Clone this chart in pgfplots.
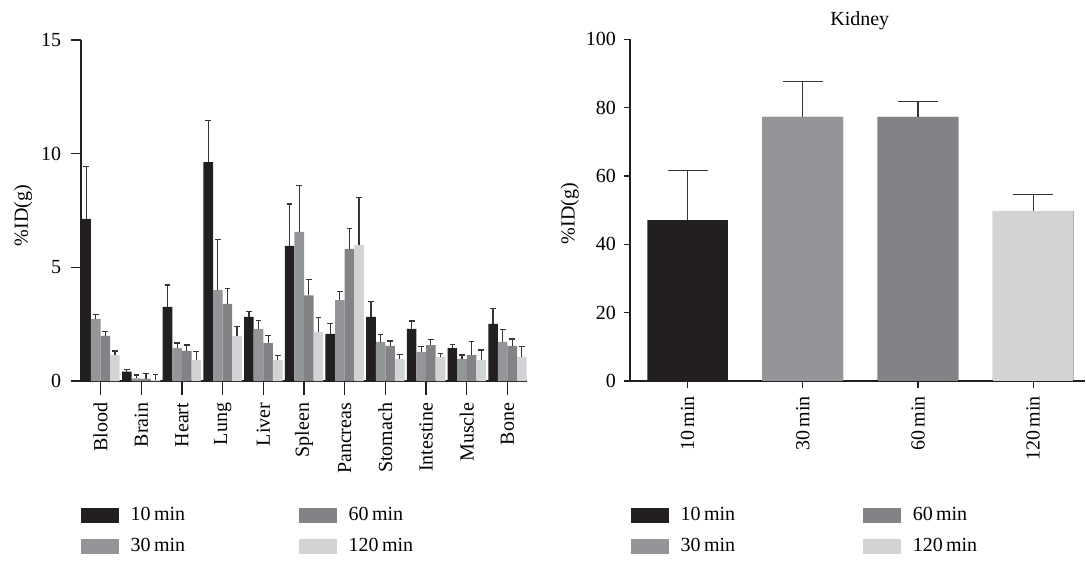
\documentclass[border=0pt]{standalone}
\usepackage{fontspec}
\setmainfont{Liberation Serif}
\usepackage{pgfplots}
\usepackage{pgfplotstable}
\pgfplotsset{compat=1.18}
\definecolor{cA}{RGB}{35,31,32}
\definecolor{cB}{RGB}{148,149,152}
\definecolor{cC}{RGB}{130,131,135}
\definecolor{cD}{RGB}{209,211,212}
\definecolor{cErr}{RGB}{55,52,53}
\definecolor{cAx}{RGB}{35,31,32}
\newcommand{\ff}{\fontsize{20}{24}\selectfont}

\pgfplotstableread{
x a ae b be c ce d de
0 7.13 2.31 2.73 0.19 1.98 0.19 1.14 0.18
1 0.41 0.10 0.12 0.14 0.09 0.25 0.05 0.23
2 3.26 0.96 1.45 0.22 1.32 0.26 0.92 0.39
3 9.63 1.82 4.00 2.22 3.39 0.69 1.98 0.41
4 2.82 0.24 2.29 0.36 1.67 0.32 0.92 0.19
5 5.94 1.85 6.56 2.04 3.77 0.70 2.16 0.64
6 2.07 0.45 3.56 0.36 5.81 0.89 5.98 2.09
7 2.82 0.67 1.72 0.32 1.54 0.22 0.97 0.20
8 2.29 0.35 1.28 0.23 1.58 0.25 1.06 0.16
9 1.45 0.15 0.97 0.17 1.14 0.58 0.92 0.44
10 2.51 0.67 1.72 0.55 1.54 0.31 1.06 0.46
}\organs

\pgfplotstableread{
x y e
0 47.1 14.4
1 77.3 10.4
2 77.3 4.4
3 49.75 4.85
}\kidney

\pgfplotsset{
  mystyle/.style={
    scale only axis,
    axis x line*=bottom,
    axis y line*=left,
    tick align=outside,
    axis line style={cAx, line width=1.3pt},
    every tick/.style={cAx, line width=1.3pt},
    /pgf/number format/assume math mode=true,
    tick label style={font=\ff},
    label style={font=\ff},
    title style={font=\ff},
    ymin=0,
    legend cell align=left,
    legend style={draw=none, fill=none, inner sep=0pt, outer sep=0pt, font=\ff,
      row sep=13.7pt,
      nodes={inner sep=0pt, text height=14pt, text depth=4pt},
      /tikz/every odd column/.append style={column sep=11.7pt}},
    transpose legend,
    legend columns=2,
    ylabel={\%ID(g)},
  },
  swatch/.style={legend image code/.code={\fill[##1] (0pt,-7.5pt) rectangle (38pt,7.5pt);}},
  errst/.style={error bars/.cd, y dir=plus, y explicit,
     error bar style={cErr, line width=1.2pt},
     error mark options={rotate=90, mark size=#1, line width=1.2pt, cErr}},
}

\begin{document}
\begin{tikzpicture}
\useasboundingbox (0,0) rectangle (1086pt,562pt);
\begin{axis}[mystyle,
  at={(81pt,181pt)}, anchor=south west,
  width=446pt, height=341pt,
  xmin=-0.48, xmax=10.48, ymax=15,
  ytick={0,5,10,15},
  major tick length=9.7pt,
  xtick={0,...,10},
  xticklabels={Blood,Brain,Heart,Lung,Liver,Spleen,Pancreas,Stomach,Intestine,Muscle,Bone},
  xtick style={/pgfplots/major tick length=14pt},
  xticklabel style={rotate=90, anchor=east, inner sep=0pt, xshift=-12pt},
  yticklabel style={inner sep=0pt, xshift=-10pt},
  ylabel style={at={(axis description cs:-0.130,0.485)}, anchor=center},
  ybar=0pt, bar width=9.6pt, swatch,
  legend style={at={(axis description cs:0,0)}, anchor=north west, yshift=-125.2pt,
     /tikz/every even column/.append style={column sep=113.9pt}},
]
\addplot[fill=cA, draw=none, swatch, errst=2.85pt] table[x=x, y=a, y error=ae] {\organs};
\addplot[fill=cB, draw=none, swatch, errst=2.85pt] table[x=x, y=b, y error=be] {\organs};
\addplot[fill=cC, draw=none, swatch, errst=2.85pt] table[x=x, y=c, y error=ce] {\organs};
\addplot[fill=cD, draw=none, swatch, errst=2.85pt] table[x=x, y=d, y error=de] {\organs};
\legend{10\,min,30\,min,60\,min,120\,min}
\end{axis}

\begin{axis}[mystyle,
  at={(630pt,181pt)}, anchor=south west,
  width=455pt, height=341.7pt,
  xmin=-0.5, xmax=3.45, ymax=100,
  ytick={0,20,...,100},
  major tick length=6pt,
  xtick={0,1,2,3},
  xticklabels={10\,min,30\,min,60\,min,120\,min},
  xtick style={/pgfplots/major tick length=7pt},
  xticklabel style={rotate=90, anchor=east, inner sep=0pt, xshift=-9pt},
  yticklabel style={inner sep=0pt, xshift=-8pt},
  ylabel style={at={(axis description cs:-0.132,0.49)}, anchor=center},
  title={Kidney},
  title style={at={(axis description cs:0.505,1.062)}, anchor=center, yshift=-9pt},
  ybar=0pt, bar width=0.7, bar shift=0pt, swatch,
  legend style={at={(axis description cs:0,0)}, anchor=north west, xshift=1pt, yshift=-125.2pt,
     /tikz/every even column/.append style={column sep=127.9pt}},
]
\addplot[fill=cA, draw=none, swatch, errst=20pt] table[x=x, y=y, y error=e] {\kidney};
\addplot[fill=cB, draw=none, swatch, errst=20pt] coordinates {(1,77.3) +- (0,10.4)};
\addplot[fill=cC, draw=none, swatch, errst=20pt] coordinates {(2,77.3) +- (0,4.4)};
\addplot[fill=cD, draw=none, swatch, errst=20pt] coordinates {(3,49.75) +- (0,4.85)};
\legend{10\,min,30\,min,60\,min,120\,min}
\end{axis}
\end{tikzpicture}
\end{document}
